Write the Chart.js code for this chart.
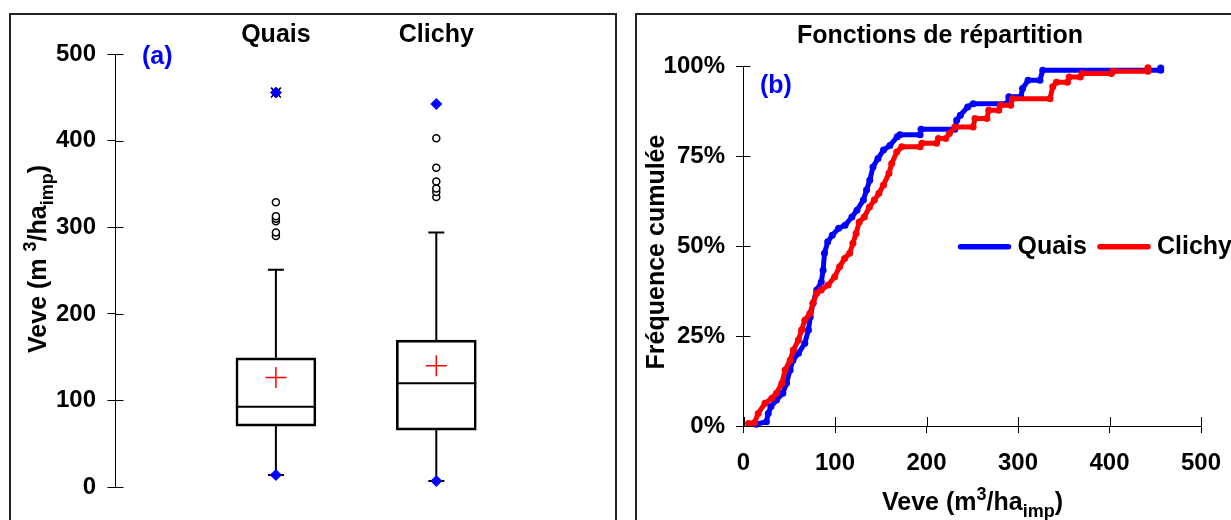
<!DOCTYPE html>
<html>
<head>
<meta charset="utf-8">
<title>Veve - Quais / Clichy</title>
<script src="https://cdn.jsdelivr.net/npm/chart.js@4.4.1/dist/chart.umd.min.js"></script>
<style>
  html, body { margin: 0; padding: 0; background: #fff; overflow: hidden; }
  body { width: 1231px; height: 520px; position: relative; }
  .panel { position: absolute; top: 13px; height: 540px; border: 2px solid #222; box-sizing: border-box; }
  #panelA { left: 9px; width: 608px; }
  #panelB { left: 635px; width: 640px; }
  canvas { position: absolute; top: 0; }
  #boxChart { left: 0; }
  #cdfChart { left: 620px; }
</style>
</head>
<body>
<div class="panel" id="panelA"></div>
<div class="panel" id="panelB"></div>
<canvas id="boxChart" width="620" height="520"></canvas>
<canvas id="cdfChart" width="620" height="520"></canvas>
<script>
const FONT = "'Liberation Sans', Arial, sans-serif";

// ---- (a) box plots ----
const categories = ['Quais', 'Clichy'];
const q1 = [70.4, 65.8];
const medians = [92.7, 120];
const q3 = [149.3, 169.7];
const means = [126.6, 140];
const whiskerLow = [13.9, 6.9];
const whiskerHigh = [251, 294];
const minima = [13.9, 6.9];
const maxima = [455.8, 442.6];
const crossedMax = [true, false];
const outliersQuais = [290, 294, 307, 310, 313, 329];
const outliersClichy = [335, 341, 345, 353, 369, 403];
const boxTicks = [0, 100, 200, 300, 400, 500];

// ---- (b) cumulative frequencies ----
const quaisVeve = [14, 25, 27, 30, 36, 43, 47, 51, 54, 60, 67, 71, 73, 76, 80, 85, 87, 88.5,
  92, 97, 104, 111, 118.5, 124, 131, 134.5, 138, 141.5, 147, 153, 160, 168, 171, 193, 194,
  231, 233, 237, 245, 251, 288, 290, 303, 305, 311, 324, 327, 456, 456];
const quaisFreq = [0.5, 1.2, 3.5, 5.4, 7.2, 9.1, 11.9, 15.6, 18.3, 20.2, 23, 26.7, 30.4, 34.1, 37.8, 40, 43.3, 48,
  51.2, 53, 55, 55.8, 58.1, 60, 62.8, 65.6, 68.3, 72, 74.4, 76.7, 78, 80.4, 81, 81, 82.5,
  82.5, 85, 86.4, 88.7, 89.6, 89.6, 91.5, 91.5, 93.8, 96.1, 96.1, 98.9, 98.9, 99.5];
const clichyVeve = [5.5, 12, 16, 23.5, 31, 36, 42, 45.5, 51, 54.5, 60, 63.5, 67, 72.5, 76, 80, 85, 92.5,
  99.7, 105, 110.5, 116, 119.6, 123, 126.5, 132, 137.7, 143, 148, 153, 159, 162, 167.5, 173, 193,
  195, 211, 213, 221, 225, 231, 251, 253, 266, 268, 279, 281, 292, 294, 335, 338, 342, 354,
  356, 368, 370, 402, 404, 442, 442];
const clichyFreq = [0.7, 0.9, 3.5, 6.3, 7.7, 9.1, 11.9, 15.6, 18.3, 21.1, 23.9, 26.7, 29.4, 31.3, 34.1, 36.9, 37.8, 39.2,
  41.5, 44.3, 46.6, 48, 50.8, 53.5, 56.7, 58.1, 60.9, 62.8, 64.7, 67, 70.3, 73, 76.2, 77.6, 77.6,
  78.6, 78.6, 79.9, 79.9, 81.3, 83.1, 83.1, 85.5, 85.5, 87.8, 87.8, 89.2, 89.2, 91, 91, 94.3, 95.6, 95.6,
  97, 97, 98, 98, 98.6, 98.6, 99.6];
const freqTicks = [0, 25, 50, 75, 100];
const veveTicks = [0, 100, 200, 300, 400, 500];

const BLUE = '#0000ff';
const RED = '#ff0000';
const tickFont = { family: FONT, size: 24, weight: 'bold' };

// text made of runs: plain, superscript or subscript
function drawRich(ctx, parts, size, x, y, angle) {
  ctx.save();
  ctx.translate(x, y);
  ctx.rotate(angle || 0);
  ctx.fillStyle = '#000';
  ctx.textAlign = 'left';
  ctx.textBaseline = 'alphabetic';
  const fontFor = m => `bold ${m ? Math.round(size * 0.7) : size}px ${FONT}`;
  let total = 0;
  const widths = parts.map(([t, m]) => {
    ctx.font = fontFor(m);
    const w = ctx.measureText(t).width;
    total += w;
    return w;
  });
  let cx = -total / 2;
  const base = size * 0.36;
  parts.forEach(([t, m], i) => {
    ctx.font = fontFor(m);
    const dy = m === 'sup' ? -size * 0.4 : m === 'sub' ? size * 0.28 : 0;
    ctx.fillText(t, cx, base + dy);
    cx += widths[i];
  });
  ctx.restore();
}

// short tick marks on the inner side of the axis line
const innerTicks = {
  id: 'innerTicks',
  afterDraw(chart, args, opts) {
    const ctx = chart.ctx;
    ctx.save();
    ctx.strokeStyle = '#000';
    ctx.lineWidth = 1;
    (opts.axes || []).forEach(({ id, length }) => {
      const s = chart.scales[id];
      s.ticks.forEach(t => {
        const p = Math.round(s.getPixelForValue(t.value)) + 0.5;
        ctx.beginPath();
        if (s.isHorizontal()) {
          ctx.moveTo(p, s.top);
          ctx.lineTo(p, s.top - length);
        } else {
          ctx.moveTo(s.right, p);
          ctx.lineTo(s.right + length, p);
        }
        ctx.stroke();
      });
    });
    ctx.restore();
  }
};

// free text: panel titles, tags, axis titles
const labelsPlugin = {
  id: 'freeLabels',
  afterDraw(chart, args, opts) {
    const ctx = chart.ctx;
    (opts.items || []).forEach(it => {
      if (it.parts) {
        drawRich(ctx, it.parts, it.size, it.x, it.y, it.angle);
        return;
      }
      ctx.save();
      ctx.translate(it.x, it.y);
      ctx.rotate(it.angle || 0);
      ctx.font = `bold ${it.size}px ${FONT}`;
      ctx.fillStyle = it.color || '#000';
      ctx.textAlign = it.align || 'center';
      ctx.textBaseline = 'middle';
      ctx.fillText(it.text, 0, 0);
      ctx.restore();
    });
  }
};

// whiskers, caps and medians of the boxes
const whiskerPlugin = {
  id: 'whiskers',
  beforeDatasetsDraw(chart) {
    const { ctx, scales: { x, y } } = chart;
    const boxes = chart.getDatasetMeta(0).data;
    ctx.save();
    ctx.strokeStyle = '#000';
    ctx.lineWidth = 2;
    categories.forEach((c, i) => {
      const cx = x.getPixelForValue(i);
      const cap = 8;
      const yLo = y.getPixelForValue(whiskerLow[i]);
      const yHi = y.getPixelForValue(whiskerHigh[i]);
      ctx.beginPath();
      ctx.moveTo(cx, y.getPixelForValue(q3[i]));
      ctx.lineTo(cx, yHi);
      ctx.moveTo(cx - cap, yHi);
      ctx.lineTo(cx + cap, yHi);
      ctx.moveTo(cx, y.getPixelForValue(q1[i]));
      ctx.lineTo(cx, yLo);
      ctx.moveTo(cx - cap, yLo);
      ctx.lineTo(cx + cap, yLo);
      const b = boxes[i];
      const ym = y.getPixelForValue(medians[i]);
      ctx.moveTo(b.x - b.width / 2, ym);
      ctx.lineTo(b.x + b.width / 2, ym);
      ctx.stroke();
    });
    ctx.restore();
  }
};

const pointsAt = (vals, idx) => vals.map(v => ({ x: idx, y: v }));

new Chart(document.getElementById('boxChart'), {
  type: 'bar',
  data: {
    datasets: [
      {
        label: 'Q1-Q3',
        data: categories.map((c, i) => ({ x: i, y: [q1[i], q3[i]] })),
        backgroundColor: 'rgba(0,0,0,0)',
        borderColor: '#000',
        borderWidth: 2,
        borderSkipped: false,
        barThickness: 80
      },
      {
        type: 'scatter',
        label: 'outliers',
        data: pointsAt(outliersQuais, 0).concat(pointsAt(outliersClichy, 1)),
        pointStyle: 'circle',
        pointRadius: 3.5,
        backgroundColor: '#fff',
        borderColor: '#000',
        borderWidth: 1.5
      },
      {
        type: 'scatter',
        label: 'moyenne',
        data: means.map((v, i) => ({ x: i, y: v })),
        pointStyle: 'cross',
        pointRadius: 10.5,
        borderColor: RED,
        borderWidth: 1.5
      },
      {
        type: 'scatter',
        label: 'min / max',
        data: minima.map((v, i) => ({ x: i, y: v })).concat(maxima.map((v, i) => ({ x: i, y: v }))),
        pointStyle: 'rectRot',
        pointRadius: 5.5,
        backgroundColor: BLUE,
        borderColor: BLUE,
        borderWidth: 1
      },
      {
        type: 'scatter',
        label: 'max',
        data: maxima.map((v, i) => ({ x: i, y: v })).filter((p, i) => crossedMax[i]),
        pointStyle: 'crossRot',
        pointRadius: 7,
        borderColor: '#000',
        borderWidth: 1.5
      }
    ]
  },
  options: {
    responsive: false,
    animation: false,
    devicePixelRatio: 1,
    events: [],
    layout: { padding: { left: 0, top: 0, right: 23.3, bottom: 33 } },
    scales: {
      x: {
        type: 'linear',
        position: 'top',
        min: -1,
        max: 2,
        offset: false,
        afterBuildTicks: s => { s.ticks = categories.map((c, i) => ({ value: i })); },
        afterFit: s => { s.height = 54.3; },
        grid: { display: false, drawTicks: false },
        border: { display: false },
        ticks: {
          callback: v => categories[v],
          color: '#000',
          font: { family: FONT, size: 25, weight: 'bold' },
          padding: 4,
          maxRotation: 0,
          autoSkip: false
        }
      },
      y: {
        min: 0,
        max: 500,
        afterBuildTicks: s => { s.ticks = boxTicks.map(v => ({ value: v })); },
        afterFit: s => { s.width = 115.5; },
        grid: { drawOnChartArea: false, drawTicks: true, tickLength: 8, color: '#000', lineWidth: 1 },
        border: { display: true, color: '#000', width: 1 },
        ticks: { color: '#000', font: tickFont, padding: 11.5 }
      }
    },
    plugins: {
      legend: { display: false },
      tooltip: { enabled: false },
      innerTicks: { axes: [{ id: 'y', length: 8 }] },
      freeLabels: {
        items: [
          { text: '(a)', x: 142, y: 57, size: 25, color: BLUE, align: 'left' },
          { parts: [['Veve (m '], ['3', 'sup'], ['/ha'], ['imp', 'sub'], [')']], size: 25, x: 37, y: 259, angle: -Math.PI / 2 }
        ]
      }
    }
  },
  plugins: [whiskerPlugin, innerTicks, labelsPlugin]
});

// legend drawn inside the plot area
const lineLegend = {
  id: 'lineLegend',
  afterDraw(chart, args, opts) {
    const ctx = chart.ctx;
    ctx.save();
    ctx.font = `bold 25px ${FONT}`;
    ctx.textBaseline = 'middle';
    ctx.textAlign = 'left';
    let lx = opts.x;
    const y = opts.y;
    chart.data.datasets.forEach(ds => {
      ctx.strokeStyle = ds.borderColor;
      ctx.lineWidth = 5.5;
      ctx.lineCap = 'round';
      ctx.beginPath();
      ctx.moveTo(lx + 3, y);
      ctx.lineTo(lx + 51, y);
      ctx.stroke();
      lx += 60;
      ctx.fillStyle = '#000';
      ctx.fillText(ds.label, lx, y);
      lx += ctx.measureText(ds.label).width + 10;
    });
    ctx.restore();
  }
};

const asPoints = (xs, ys) => xs.map((v, i) => ({ x: v, y: ys[i] }));

new Chart(document.getElementById('cdfChart'), {
  type: 'line',
  data: {
    datasets: [
      {
        label: 'Quais',
        data: asPoints(quaisVeve, quaisFreq),
        borderColor: BLUE,
        backgroundColor: BLUE,
        borderWidth: 5,
        pointRadius: 3.5,
        pointBorderWidth: 0,
        tension: 0,
        fill: false,
        borderJoinStyle: 'round',
        borderCapStyle: 'round',
        clip: 8,
        order: 1
      },
      {
        label: 'Clichy',
        data: asPoints(clichyVeve, clichyFreq),
        borderColor: RED,
        backgroundColor: RED,
        borderWidth: 5,
        pointRadius: 3.5,
        pointBorderWidth: 0,
        tension: 0,
        fill: false,
        borderJoinStyle: 'round',
        borderCapStyle: 'round',
        clip: 8,
        order: 0
      }
    ]
  },
  options: {
    responsive: false,
    animation: false,
    devicePixelRatio: 1,
    events: [],
    layout: { padding: { left: 0, top: 66.3, right: 39, bottom: 34 } },
    scales: {
      x: {
        type: 'linear',
        min: 0,
        max: 500,
        afterBuildTicks: s => { s.ticks = veveTicks.map(v => ({ value: v })); },
        afterFit: s => { s.height = 60; },
        grid: { drawOnChartArea: false, drawTicks: true, tickLength: 7, color: '#000', lineWidth: 1 },
        border: { display: true, color: '#000', width: 1 },
        ticks: { color: '#000', font: tickFont, padding: 16, maxRotation: 0 }
      },
      y: {
        min: 0,
        max: 100,
        afterBuildTicks: s => { s.ticks = freqTicks.map(v => ({ value: v })); },
        afterFit: s => { s.width = 123.5; },
        grid: { drawOnChartArea: false, drawTicks: true, tickLength: 7.5, color: '#000', lineWidth: 1 },
        border: { display: true, color: '#000', width: 1 },
        ticks: { color: '#000', font: tickFont, padding: 11, callback: v => v + '%' }
      }
    },
    plugins: {
      legend: { display: false },
      tooltip: { enabled: false },
      innerTicks: { axes: [{ id: 'x', length: 9 }, { id: 'y', length: 7 }] },
      lineLegend: { x: 337.5, y: 246.7 },
      freeLabels: {
        items: [
          { text: 'Fonctions de répartition', x: 320, y: 36, size: 25 },
          { text: '(b)', x: 140, y: 86, size: 25, color: BLUE, align: 'left' },
          { text: 'Fréquence cumulée', x: 37, y: 252, size: 25, angle: -Math.PI / 2 },
          { parts: [['Veve (m'], ['3', 'sup'], ['/ha'], ['imp', 'sub'], [')']], size: 25, x: 352.5, y: 501 }
        ]
      }
    }
  },
  plugins: [innerTicks, labelsPlugin, lineLegend]
});
</script>
</body>
</html>
